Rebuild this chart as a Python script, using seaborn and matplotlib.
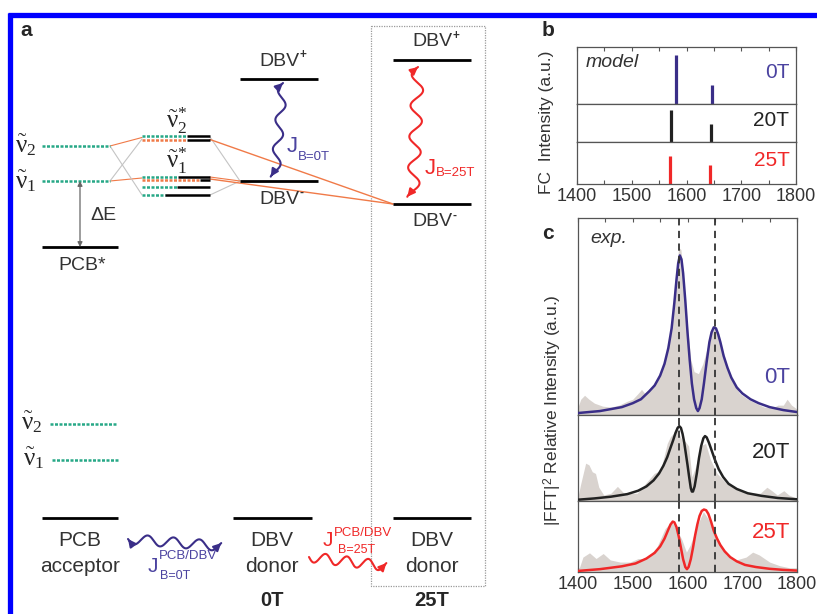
import numpy as np
import pandas as pd
import matplotlib
matplotlib.use("Agg")
import matplotlib.pyplot as plt
import seaborn as sns

# ---------------- data ----------------
fields = ["0T", "20T", "25T"]
wn_ticks = [1400, 1500, 1600, 1700, 1800]
mode_lines = [1585, 1650]

# panel b : Franck-Condon stick spectra (model)
stick_pos_0T = [1581, 1646]
stick_int_0T = [0.86, 0.33]
stick_pos_20T = [1572, 1644]
stick_int_20T = [0.84, 0.47]
stick_pos_25T = [1570, 1643]
stick_int_25T = [0.67, 0.45]

# panel c : fitted curves
fit_x_0T = [1400, 1420, 1440, 1460, 1480, 1500, 1515, 1530, 1540, 1550, 1558, 1565, 1571, 1576,
            1580, 1583, 1586, 1589, 1592, 1596, 1600, 1604, 1608, 1612, 1616, 1619, 1622, 1626,
            1630, 1635, 1640, 1644, 1648, 1652, 1656, 1660, 1666, 1673, 1680, 1690, 1700, 1715,
            1730, 1750, 1775, 1800]
fit_y_0T = [0.01, 0.015, 0.02, 0.03, 0.04, 0.06, 0.08, 0.12, 0.15, 0.20, 0.26, 0.34, 0.44, 0.57,
            0.69, 0.77, 0.81, 0.79, 0.72, 0.58, 0.42, 0.28, 0.16, 0.08, 0.035, 0.02, 0.035, 0.08,
            0.16, 0.27, 0.37, 0.42, 0.445, 0.44, 0.41, 0.37, 0.30, 0.24, 0.19, 0.14, 0.11, 0.08,
            0.06, 0.04, 0.025, 0.015]
fit_x_20T = [1400, 1430, 1460, 1490, 1510, 1525, 1538, 1548, 1556, 1563, 1569, 1574, 1578, 1582,
             1585, 1588, 1591, 1594, 1597, 1600, 1603, 1606, 1608, 1610, 1613, 1617, 1621, 1625,
             1629, 1632, 1635, 1639, 1644, 1650, 1657, 1665, 1675, 1690, 1710, 1735, 1765, 1800]
fit_y_20T = [0.015, 0.03, 0.05, 0.08, 0.12, 0.17, 0.24, 0.32, 0.41, 0.51, 0.62, 0.71, 0.79, 0.85,
             0.87, 0.85, 0.78, 0.68, 0.55, 0.42, 0.28, 0.15, 0.11, 0.11, 0.17, 0.32, 0.50, 0.64,
             0.73, 0.755, 0.74, 0.68, 0.59, 0.48, 0.37, 0.28, 0.20, 0.14, 0.09, 0.06, 0.035, 0.02]
fit_x_25T = [1400, 1440, 1480, 1505, 1525, 1540, 1550, 1558, 1564, 1569, 1573, 1576, 1580, 1584,
             1588, 1592, 1596, 1599, 1602, 1606, 1610, 1614, 1618, 1622, 1626, 1630, 1634, 1638,
             1643, 1648, 1654, 1660, 1668, 1678, 1690, 1705, 1725, 1750, 1775, 1800]
fit_y_25T = [0.015, 0.04, 0.08, 0.12, 0.19, 0.27, 0.36, 0.47, 0.58, 0.67, 0.71, 0.70, 0.63, 0.50,
             0.34, 0.18, 0.07, 0.04, 0.07, 0.18, 0.34, 0.52, 0.67, 0.79, 0.86, 0.88, 0.87, 0.82,
             0.71, 0.58, 0.47, 0.38, 0.29, 0.21, 0.15, 0.10, 0.07, 0.045, 0.03, 0.02]

# panel c : experimental |FFT|^2 (grey area)
exp_x_0T = [1400, 1405, 1412, 1420, 1430, 1445, 1460, 1475, 1490, 1500, 1510, 1516, 1522, 1530,
            1540, 1550, 1560, 1570, 1578, 1584, 1588, 1594, 1600, 1606, 1612, 1620, 1628, 1636,
            1644, 1650, 1656, 1664, 1672, 1682, 1695, 1710, 1725, 1740, 1755, 1765, 1775, 1782,
            1790, 1800]
exp_y_0T = [0.04, 0.08, 0.10, 0.08, 0.06, 0.045, 0.04, 0.05, 0.07, 0.08, 0.11, 0.13, 0.11, 0.13,
            0.16, 0.21, 0.30, 0.45, 0.70, 0.85, 0.84, 0.66, 0.45, 0.28, 0.22, 0.21, 0.26, 0.34,
            0.42, 0.45, 0.42, 0.33, 0.25, 0.17, 0.11, 0.08, 0.06, 0.04, 0.035, 0.05, 0.05, 0.08,
            0.05, 0.03]
exp_x_20T = [1400, 1405, 1414, 1420, 1426, 1432, 1438, 1447, 1460, 1472, 1484, 1508, 1539, 1551,
             1563, 1569, 1581, 1590, 1596, 1602, 1608, 1615, 1624, 1633, 1642, 1654, 1672, 1703,
             1733, 1745, 1754, 1764, 1776, 1785, 1800]
exp_y_20T = [0.05, 0.20, 0.44, 0.42, 0.34, 0.32, 0.16, 0.07, 0.09, 0.17, 0.09, 0.09, 0.32, 0.36,
             0.67, 0.75, 0.83, 0.71, 0.69, 0.64, 0.28, 0.40, 0.64, 0.67, 0.48, 0.32, 0.20, 0.10,
             0.09, 0.16, 0.12, 0.07, 0.12, 0.07, 0.03]
exp_x_25T = [1400, 1403, 1409, 1421, 1433, 1446, 1459, 1477, 1495, 1510, 1526, 1544, 1559, 1571,
             1581, 1590, 1598, 1605, 1617, 1629, 1641, 1653, 1671, 1689, 1707, 1719, 1731, 1750,
             1768, 1786, 1800]
exp_y_25T = [0.05, 0.07, 0.21, 0.27, 0.19, 0.26, 0.17, 0.14, 0.14, 0.19, 0.19, 0.35, 0.61, 0.71,
             0.59, 0.45, 0.28, 0.38, 0.64, 0.85, 0.71, 0.45, 0.24, 0.17, 0.21, 0.28, 0.24, 0.14,
             0.09, 0.06, 0.06]

# ---------------- style ----------------
sns.set_style("ticks")
plt.rcParams["font.family"] = ["Liberation Sans", "DejaVu Sans"]
plt.rcParams["mathtext.fontset"] = "custom"
plt.rcParams["mathtext.rm"] = "Liberation Serif"
plt.rcParams["mathtext.it"] = "Liberation Serif:italic"
plt.rcParams["mathtext.sf"] = "Liberation Sans"
plt.rcParams["mathtext.default"] = "rm"

W, H = 817, 614
fig = plt.figure(figsize=(W / 100, H / 100), dpi=100)

PURPLE = "#3a2e88"
PURPLE_T = "#4b43a0"
RED = "#f02828"
BLACK = "#222222"
TXT = "#333333"
GREEN = "#27a887"
ORANGE = "#f07a48"
GREYLINE = "#c4c4c4"
FILL = "#d9d3cf"
col = {"0T": PURPLE, "20T": BLACK, "25T": RED}
tcol = {"0T": PURPLE_T, "20T": BLACK, "25T": RED}


def rect(x0, y0, x1, y1):
    return [x0 / W, 1 - y1 / H, (x1 - x0) / W, (y1 - y0) / H]


# ---------------- panel a (diagram on a pixel-space axes) ----------------
ax0 = fig.add_axes([0, 0, 1, 1])
ax0.set_xlim(0, W)
ax0.set_ylim(H, 0)
ax0.axis("off")

# blue frame
ax0.plot([8, W], [15, 15], color="#0000ff", lw=3.8, solid_capstyle="butt")
ax0.plot([10.5, 10.5], [13, H], color="#0000ff", lw=3.8, solid_capstyle="butt")


def level(x0, x1, y, color="black", lw=2.0):
    ax0.plot([x0, x1], [y, y], color=color, lw=lw, solid_capstyle="butt")


def dotted(x0, x1, y, color):
    ax0.plot([x0, x1], [y, y], color=color, lw=1.8, ls=(0, (1.2, 0.6)))


def link(p, q, color, lw=0.8):
    ax0.plot([p[0], q[0]], [p[1], q[1]], color=color, lw=lw)


def wave(p0, p1, ncyc, amp, color, lw=1.5, heads=(True, True), ms=11):
    p0 = np.array(p0, float)
    p1 = np.array(p1, float)
    d = p1 - p0
    L = np.hypot(*d)
    n = np.array([-d[1], d[0]]) / L
    t = np.linspace(0, 1, 400)
    off = amp * np.sin(2 * np.pi * ncyc * t)
    pts = p0[None, :] + t[:, None] * d[None, :] + off[:, None] * n[None, :]
    ax0.plot(pts[:, 0], pts[:, 1], color=color, lw=lw)
    ap = dict(arrowstyle="-|>", mutation_scale=ms, color=color, lw=lw, shrinkA=0, shrinkB=0)
    if heads[1]:
        ax0.annotate("", xy=pts[-1], xytext=pts[-12], arrowprops=ap)
    if heads[0]:
        ax0.annotate("", xy=pts[0], xytext=pts[11], arrowprops=ap)


def dbv(x, y, sign, fs=14):
    ax0.text(x, y, "DBV", fontsize=fs, ha="center", va="center", color=TXT)
    half = 2.056 * fs * 1.389 / 2
    ax0.text(x + half + 0.5, y - 6, sign, fontsize=fs * 0.6, ha="left", va="center",
             color=TXT, fontweight="bold")


ax0.text(26, 31, "a", fontsize=15, fontweight="bold", ha="center", va="center")

# dotted box around 25T
ax0.plot([371, 485, 485, 371, 371], [26, 26, 586, 586, 26], color="#9a9a9a", lw=0.9,
         ls=(0, (1, 1)))

# connecting lines (drawn first, under the levels)
link((110, 146), (142, 137.5), ORANGE)
link((110, 181), (142, 178), ORANGE)
link((110, 146), (142, 195), GREYLINE)
link((110, 181), (142, 139), GREYLINE)
link((210, 137), (240, 181), GREYLINE)
link((210, 195), (240, 181), GREYLINE)
link((210, 139.5), (393, 204), ORANGE, 1.0)
link((210, 179), (393, 204), ORANGE, 1.0)
link((210, 177), (240, 181), ORANGE, 0.8)

# PCB* vibrational levels
dotted(42, 110, 146, GREEN)
dotted(42, 110, 181, GREEN)
level(42, 118, 247)
ax0.annotate("", xy=(80, 181), xytext=(80, 247),
             arrowprops=dict(arrowstyle="<|-|>", mutation_scale=7, color="#666666", lw=0.9,
                             shrinkA=0, shrinkB=0))
ax0.text(103, 215, "ΔE", fontsize=14, ha="center", va="center", color=TXT)
ax0.text(82, 266, "PCB*", fontsize=14, ha="center", va="center", color=TXT)
ax0.text(15, 145, r"$\tilde{\nu}_{2}$", fontsize=18, ha="left", va="center")
ax0.text(15, 181, r"$\tilde{\nu}_{1}$", fontsize=18, ha="left", va="center")

# mixed levels nu*
dotted(142, 187, 135.5, GREEN); level(187, 210, 135.5, lw=1.8)
dotted(142, 187, 139.5, ORANGE); level(187, 210, 139.5, lw=1.8)
dotted(142, 178, 176.5, GREEN); level(178, 210, 176.5, lw=1.8)
dotted(142, 200, 179.5, ORANGE); level(200, 210, 179.5, lw=1.8)
dotted(142, 177, 187, GREEN); level(177, 210, 187, lw=1.8)
dotted(142, 165, 195, GREEN); level(165, 210, 195, lw=1.8)
ax0.text(166, 121, r"$\tilde{\nu}^{*}_{2}$", fontsize=18, ha="left", va="center")
ax0.text(166, 161, r"$\tilde{\nu}^{*}_{1}$", fontsize=18, ha="left", va="center")

# DBV 0T
level(240, 318, 79)
level(240, 318, 181)
dbv(279, 61, "+")
dbv(279, 199, "-")
wave((283, 83), (275, 177), 3.2, 4.5, PURPLE)
ax0.text(292, 146, "J", fontsize=16, ha="center", va="center", color=PURPLE_T)
ax0.text(298, 157, "B=0T", fontsize=9.5, ha="left", va="center", color=PURPLE_T)

# DBV 25T
level(393, 471, 60)
level(393, 471, 204)
dbv(432, 42, "+")
dbv(432, 222, "-")
wave((418, 67), (413, 197), 4.2, 6, RED)
ax0.text(430, 168, "J", fontsize=16, ha="center", va="center", color=RED)
ax0.text(436, 173, "B=25T", fontsize=9.5, ha="left", va="center", color=RED)

# ground-state vibrational levels
dotted(50, 116, 424, GREEN)
dotted(52, 118, 460, GREEN)
ax0.text(21, 422, r"$\tilde{\nu}_{2}$", fontsize=18, ha="left", va="center")
ax0.text(23, 458, r"$\tilde{\nu}_{1}$", fontsize=18, ha="left", va="center")

# bottom: acceptor / donors
level(42, 118, 518)
level(233, 312, 518)
level(393, 471, 518)
for x, l1, l2 in [(80, "PCB", "acceptor"), (272, "DBV", "donor"), (432, "DBV", "donor")]:
    ax0.text(x, 541, l1, fontsize=15, ha="center", va="center", color=TXT)
    ax0.text(x, 566, l2, fontsize=15, ha="center", va="center", color=TXT)
ax0.text(272, 601, "0T", fontsize=14.5, fontweight="bold", ha="center", va="center")
ax0.text(432, 601, "25T", fontsize=14.5, fontweight="bold", ha="center", va="center")

wave((128, 539), (221, 546), 3.6, 5, PURPLE)
ax0.text(153, 566, "J", fontsize=15, ha="center", va="center", color=PURPLE_T)
ax0.text(159, 556, "PCB/DBV", fontsize=9.5, ha="left", va="center", color=PURPLE_T)
ax0.text(160, 576, "B=0T", fontsize=9, ha="left", va="center", color=PURPLE_T)

wave((309, 557), (386, 566), 3.6, 5, RED, heads=(False, True))
ax0.text(328, 541, "J", fontsize=15, ha="center", va="center", color=RED)
ax0.text(334, 533, "PCB/DBV", fontsize=9.5, ha="left", va="center", color=RED)
ax0.text(338, 550, "B=25T", fontsize=9, ha="left", va="center", color=RED)


# ---------------- panels b & c ----------------
def style_strip(ax, top, bottom):
    ax.set_xlim(1400, 1800)
    ax.set_ylim(0, 1)
    ax.set_yticks([])
    ax.set_xticks(wn_ticks)
    ax.set_xticks(np.arange(1450, 1800, 100), minor=True)
    for s in ax.spines.values():
        s.set_color("#555555")
        s.set_linewidth(0.9)
    ax.tick_params(axis="x", which="both", direction="in", top=top, bottom=bottom,
                   labelbottom=bottom, length=3, width=0.8, color="#555555",
                   labelsize=13, pad=3, labelcolor=TXT)
    ax.set_xlabel("")
    ax.set_ylabel("")


# panel b
b_rows = [(47, 104), (104, 142), (142, 184)]
sticks = {"0T": (stick_pos_0T, stick_int_0T),
          "20T": (stick_pos_20T, stick_int_20T),
          "25T": (stick_pos_25T, stick_int_25T)}
b_text_y = [0.55, 0.56, 0.55]
for i, (f, (y0, y1)) in enumerate(zip(fields, b_rows)):
    ax = fig.add_axes(rect(577, y0, 796, y1))
    pos, inten = sticks[f]
    ax.vlines(pos, 0, inten, color=col[f], lw=2.3)
    style_strip(ax, top=(i == 0), bottom=(i == 2))
    ax.text(0.97, b_text_y[i], f, transform=ax.transAxes, ha="right", va="center",
            fontsize=15, color=tcol[f])
    if i == 0:
        ax.text(0.04, 0.72, "model", transform=ax.transAxes, ha="left", va="center",
                fontsize=14, style="italic", color=TXT)

fig.text(547 / W, 1 - 122 / H, "FC  Intensity (a.u.)", rotation=90, ha="center", va="center",
         fontsize=12.5, color=TXT)
fig.text(548 / W, 1 - 30 / H, "b", fontsize=15, fontweight="bold", ha="center", va="center")

# panel c
c_rows = [(218, 415), (415, 501), (501, 572)]
fits = {"0T": (fit_x_0T, fit_y_0T), "20T": (fit_x_20T, fit_y_20T), "25T": (fit_x_25T, fit_y_25T)}
exps = {"0T": (exp_x_0T, exp_y_0T), "20T": (exp_x_20T, exp_y_20T), "25T": (exp_x_25T, exp_y_25T)}
c_text_y = [0.19, 0.56, 0.55]
for i, (f, (y0, y1)) in enumerate(zip(fields, c_rows)):
    ax = fig.add_axes(rect(578, y0, 797, y1))
    ex, ey = exps[f]
    ax.fill_between(ex, 0, ey, color=FILL, lw=0, zorder=1)
    fx, fy = fits[f]
    df = pd.DataFrame({"wavenumber": fx, "intensity": fy})
    sns.lineplot(data=df, x="wavenumber", y="intensity", ax=ax, color=col[f], lw=1.8,
                 zorder=3, sort=False)
    for xv in mode_lines:
        ax.axvline(xv, color="#333333", lw=1.3, ls=(0, (4, 3)), zorder=4)
    style_strip(ax, top=(i == 0), bottom=(i == 2))
    ax.text(0.97, c_text_y[i], f, transform=ax.transAxes, ha="right", va="center",
            fontsize=16, color=tcol[f], zorder=5)
    if i == 0:
        ax.text(0.055, 0.895, "exp.", transform=ax.transAxes, ha="left", va="center",
                fontsize=14, style="italic", color=TXT)

fig.text(553 / W, 1 - 410 / H, r"|FFT|$^{\mathsf{2}}$ Relative Intensity (a.u.)", rotation=90,
         ha="center", va="center", fontsize=12.5, color=TXT)
fig.text(548 / W, 1 - 234 / H, "c", fontsize=15, fontweight="bold", ha="center", va="center")

fig.savefig("out.png", dpi=100)
